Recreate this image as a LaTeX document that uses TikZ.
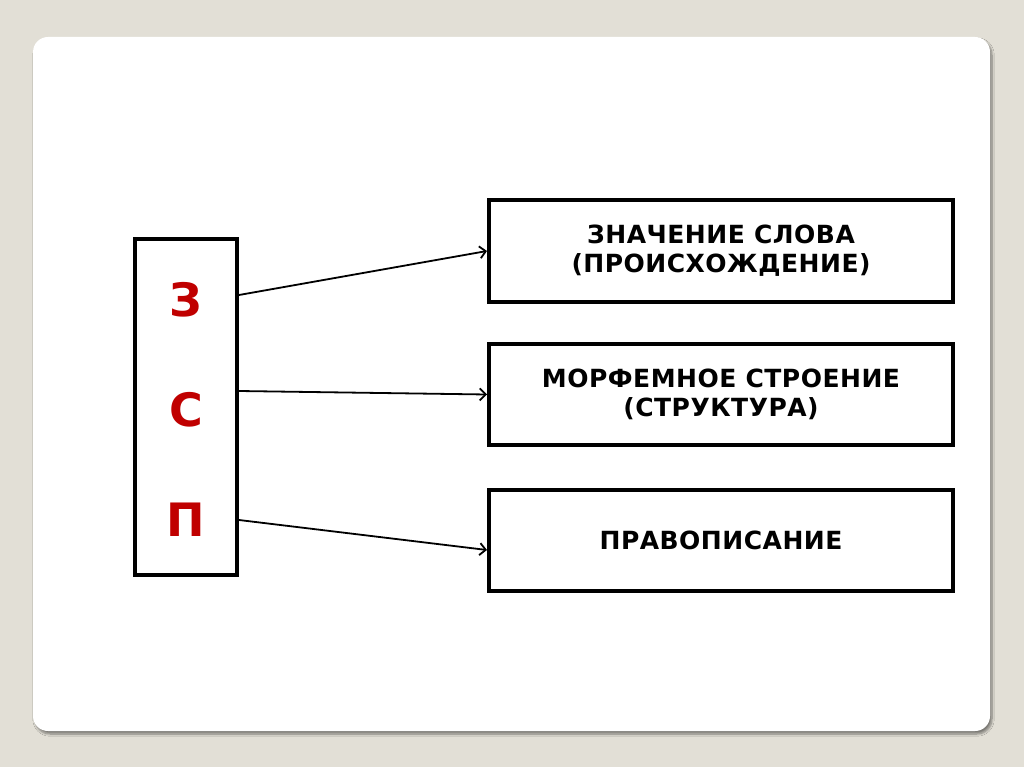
\documentclass[tikz,border=0pt]{standalone}
\usepackage{fontspec}
\setmainfont{DejaVu Sans}
\usetikzlibrary{arrows.meta,shadows.blur}
\definecolor{slidebg}{RGB}{226,223,214}
\definecolor{letterred}{RGB}{192,0,0}

\begin{document}
\begin{tikzpicture}[x=1pt,y=-1pt,>={Straight Barb[length=6pt,width=12pt]},
					box/.style={draw,line width=4pt,minimum width=464pt,minimum height=101pt,inner sep=0pt,
						align=center,font=\fontsize{25}{29}\selectfont\bfseries\addfontfeature{LetterSpace=2}},
					letter/.style={text=letterred,font=\fontsize{46}{50}\selectfont\bfseries},
					arr/.style={->,line width=1.8pt}]
					
					\useasboundingbox[fill=slidebg] (0,0) rectangle (1024,767);
					\fill[white,rounded corners=15pt,blur shadow={shadow xshift=2pt,shadow yshift=-3pt,shadow blur steps=8,shadow opacity=45}]
						(33,37) rectangle (990,731);
					
					\node[draw,line width=4pt,minimum width=102pt,minimum height=336pt,inner sep=0pt] (lbox) at (186,407) {};
					\node[letter] (lz) at (186,300) {З};
					\node[letter] (ls) at (186,410) {С};
					\node[letter] (lp) at (186,520) {П};
					
					\node[box] (meaning) at (721,251) {ЗНАЧЕНИЕ СЛОВА\\(ПРОИСХОЖДЕНИЕ)};
					\node[box] (morph) at (721,394.5) {МОРФЕМНОЕ СТРОЕНИЕ\\(СТРУКТУРА)};
					\node[box] (spell) at (721,540) {ПРАВОПИСАНИЕ};
					
					\draw[arr] ([yshift=112pt]lbox.east) -- (meaning.west);
					\draw[arr] ([yshift=16pt]lbox.east) -- (morph.west);
					\draw[arr] ([yshift=-113pt]lbox.east) -- ([yshift=-10pt]spell.west);
\end{tikzpicture}
\end{document}
